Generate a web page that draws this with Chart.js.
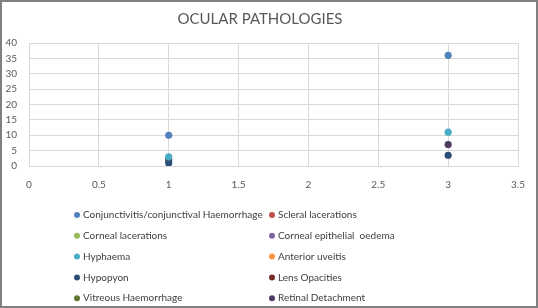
<!DOCTYPE html>
<html>
<head>
<meta charset="utf-8">
<script src="https://cdn.jsdelivr.net/npm/chart.js@4/dist/chart.umd.min.js"></script>
<style>
  html, body { margin: 0; padding: 0; background: #fff; }
  #wrap { width: 538px; height: 308px; position: relative; }
</style>
</head>
<body>
<div id="wrap"><canvas id="myChart" width="538" height="308"></canvas></div>
<script>
// x positions where the points sit
const xValues = [1, 3];

// series names and colours (legend order)
const seriesNames = [
  'Conjunctivitis/conjunctival Haemorrhage', 'Scleral lacerations',
  'Corneal lacerations', 'Corneal epithelial  oedema',
  'Hyphaema', 'Anterior uveitis',
  'Hypopyon', 'Lens Opacities',
  'Vitreous Haemorrhage', 'Retinal Detachment'
];
const seriesColors = [
  '#4F81BD', '#C0504D', '#9BBB59', '#8064A2', '#4BACC6',
  '#F79646', '#2C4D75', '#772C2A', '#5F7530', '#4D3B62'
];

// values at x = 1 and x = 3 (null = no point visible)
const conjunctivitis = [10, 36];
const scleral = [null, null];
const cornealLac = [null, null];
const cornealOedema = [null, null];
const hyphaema = [3, 11];
const anteriorUveitis = [null, null];
const hypopyon = [1, 3.5];
const lensOpacities = [null, null];
const vitreous = [null, null];
const retinal = [2, 7];

const seriesValues = [conjunctivitis, scleral, cornealLac, cornealOedema, hyphaema,
  anteriorUveitis, hypopyon, lensOpacities, vitreous, retinal];

const xTicks = [0, 0.5, 1, 1.5, 2, 2.5, 3, 3.5];
const yTicks = [0, 5, 10, 15, 20, 25, 30, 35, 40];

const FONT = 'Lato, "Liberation Sans", sans-serif';

const datasets = seriesNames.map((name, i) => ({
  label: name,
  data: xValues.map((x, j) => ({ x: x, y: seriesValues[i][j] })).filter(p => p.y !== null),
  backgroundColor: seriesColors[i],
  borderColor: seriesColors[i],
  pointRadius: 3.6,
  borderWidth: 0,
  showLine: false
}));

// two-column legend under the plot, plus frame
const legendAndFrame = {
  id: 'legendAndFrame',
  afterDraw(chart) {
    const ctx = chart.ctx;
    ctx.save();
    const colMarker = [77, 272];
    const colText = [83, 278];
    ctx.font = '10px ' + FONT;
    ctx.textBaseline = 'middle';
    ctx.textAlign = 'left';
    chart.data.datasets.forEach((ds, i) => {
      const col = i % 2, row = Math.floor(i / 2);
      const y = 215 + row * 20.8;
      ctx.fillStyle = ds.backgroundColor;
      ctx.beginPath();
      ctx.arc(colMarker[col], y, 3, 0, Math.PI * 2);
      ctx.fill();
      ctx.fillStyle = '#404040';
      ctx.fillText(ds.label, colText[col], y);
    });
    ctx.strokeStyle = '#808080';
    ctx.lineWidth = 2;
    ctx.strokeRect(1, 1, 536, 306);
    ctx.restore();
  }
};

const ctx = document.getElementById('myChart').getContext('2d');
const myChart = new Chart(ctx, {
  type: 'scatter',
  data: { datasets: datasets },
  options: {
    responsive: false,
    animation: false,
    layout: { padding: { left: 0, right: 18, top: 0, bottom: 0 } },
    plugins: {
      legend: { display: false },
      tooltip: { enabled: false },
      title: {
        display: true,
        text: 'OCULAR PATHOLOGIES',
        color: '#595959',
        font: { family: FONT, size: 15, weight: 'normal' },
        padding: { top: 10, bottom: 15 }
      }
    },
    scales: {
      x: {
        type: 'linear',
        min: xTicks[0],
        max: xTicks[xTicks.length - 1],
        afterBuildTicks: s => { s.ticks = xTicks.map(v => ({ value: v })); },
        ticks: {
          color: '#595959', font: { family: FONT, size: 10 }, padding: 13, maxRotation: 0,
          callback: v => String(v)
        },
        grid: { color: '#D9D9D9', drawTicks: false },
        border: { color: '#D9D9D9' },
        afterFit: s => { s.height = 142; }
      },
      y: {
        type: 'linear',
        min: yTicks[0],
        max: yTicks[yTicks.length - 1],
        afterBuildTicks: s => { s.ticks = yTicks.map(v => ({ value: v })); },
        ticks: { color: '#595959', font: { family: FONT, size: 10 }, padding: 12, callback: v => String(v) },
        grid: { color: '#D9D9D9', drawTicks: false },
        border: { color: '#D9D9D9' },
        afterFit: s => { s.width = 29; }
      }
    }
  },
  plugins: [legendAndFrame]
});
</script>
</body>
</html>
